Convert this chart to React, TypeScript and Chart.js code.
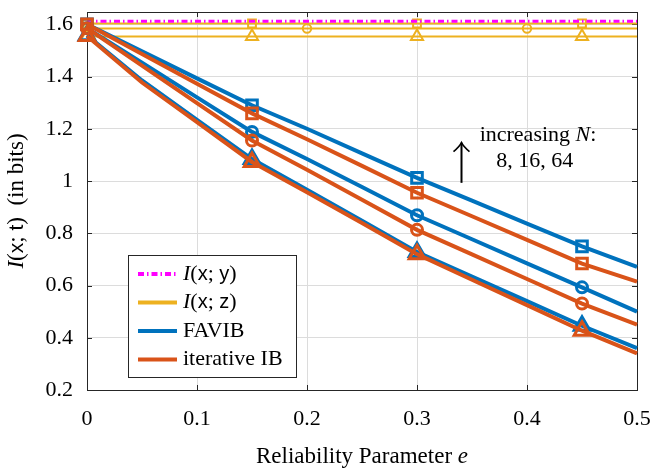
import React, { useEffect, useRef } from "react";
import { Chart, registerables } from "chart.js";

Chart.register(...registerables);

// Reliability parameter e (x axis)
const reliability = [0, 0.05, 0.1, 0.15, 0.2, 0.25, 0.3, 0.35, 0.4, 0.45, 0.5];

// I(x;t) in bits, FAVIB
const favibN64 = [1.6, 1.497, 1.393, 1.29, 1.2, 1.106, 1.012, 0.925, 0.837, 0.75, 0.671];
const favibN16 = [1.585, 1.453, 1.32, 1.188, 1.084, 0.977, 0.869, 0.777, 0.685, 0.593, 0.5];
const favibN8 = [1.558, 1.385, 1.234, 1.084, 0.967, 0.848, 0.728, 0.634, 0.54, 0.446, 0.36];

// I(x;t) in bits, iterative IB
const iterN64 = [1.6, 1.486, 1.372, 1.259, 1.16, 1.058, 0.955, 0.865, 0.775, 0.684, 0.615];
const iterN16 = [1.585, 1.442, 1.298, 1.155, 1.043, 0.928, 0.813, 0.719, 0.625, 0.531, 0.45];
const iterN8 = [1.555, 1.377, 1.225, 1.073, 0.957, 0.839, 0.72, 0.622, 0.525, 0.427, 0.34];

// Reference levels
const infoXY = 1.612;
const infoXZ_N64 = 1.603;
const infoXZ_N16 = 1.584;
const infoXZ_N8 = 1.553;

const xTickValues = [0, 0.1, 0.2, 0.3, 0.4, 0.5];
const yTickValues = [0.2, 0.4, 0.6, 0.8, 1, 1.2, 1.4, 1.6];

const BLUE = "#0072BD";
const ORANGE = "#D95319";
const YELLOW = "#EDB120";
const MAGENTA = "#FF00FF";
const AXIS = "#262626";
const GRID = "#dcdcdc";

const SERIF = '"Liberation Serif", "DejaVu Serif", serif';
const SANS = '"Liberation Sans", "DejaVu Sans", sans-serif';
const FS = 22;

type Part = { t: string; f: string };

function drawParts(
  ctx: CanvasRenderingContext2D,
  parts: Part[],
  x: number,
  y: number,
  align: "left" | "center"
) {
  let w = 0;
  for (const p of parts) {
    ctx.font = p.f;
    w += ctx.measureText(p.t).width;
  }
  let cx = align === "center" ? x - w / 2 : x;
  ctx.textAlign = "left";
  ctx.textBaseline = "middle";
  for (const p of parts) {
    ctx.font = p.f;
    ctx.fillText(p.t, cx, y);
    cx += ctx.measureText(p.t).width;
  }
}

function infoLabel(second: string, size: number): Part[] {
  const serif = `${size}px ${SERIF}`;
  const sans = `${size - 2}px ${SANS}`;
  return [
    { t: "I", f: `italic ${size}px ${SERIF}` },
    { t: "(", f: serif },
    { t: "x", f: sans },
    { t: "; ", f: serif },
    { t: second, f: sans },
    { t: ")", f: serif },
  ];
}

const toPoints = (ys: number[]) => reliability.map((x, i) => ({ x, y: ys[i] }));

function series(
  label: string,
  ys: number[],
  color: string,
  style: string,
  radius: number,
  every: number,
  order: number,
  width = 4
) {
  return {
    label,
    data: toPoints(ys),
    borderColor: color,
    borderWidth: width,
    pointStyle: style,
    pointRadius: (c: any) => (c.dataIndex % every === 0 ? radius : 0),
    pointHoverRadius: 0,
    pointBorderColor: color,
    pointBackgroundColor: "rgba(0,0,0,0)",
    pointBorderWidth: width === 4 ? 3 : 2,
    tension: 0,
    clip: false as any,
    order,
  };
}

const decorations = {
  id: "decorations",
  beforeDatasetsDraw(chart: any) {
    const { ctx, chartArea: a, scales } = chart;
    ctx.save();
    ctx.strokeStyle = AXIS;
    ctx.lineWidth = 1;
    ctx.beginPath();
    for (const v of xTickValues) {
      const px = Math.round(scales.x.getPixelForValue(v)) + 0.5;
      ctx.moveTo(px, a.bottom);
      ctx.lineTo(px, a.bottom - 5);
      ctx.moveTo(px, a.top);
      ctx.lineTo(px, a.top + 5);
    }
    for (const v of yTickValues) {
      const py = Math.round(scales.y.getPixelForValue(v)) + 0.5;
      ctx.moveTo(a.left, py);
      ctx.lineTo(a.left + 5, py);
      ctx.moveTo(a.right, py);
      ctx.lineTo(a.right - 5, py);
    }
    ctx.stroke();
    ctx.strokeRect(
      Math.round(a.left) + 0.5,
      Math.round(a.top) + 0.5,
      Math.round(a.right - a.left),
      Math.round(a.bottom - a.top)
    );
    ctx.restore();
  },
  afterDraw(chart: any) {
    const { ctx, chartArea: a, scales } = chart;
    ctx.save();
    ctx.fillStyle = "#000";

    // axis titles
    drawParts(
      ctx,
      [
        { t: "Reliability Parameter ", f: `${FS + 1}px ${SERIF}` },
        { t: "e", f: `italic ${FS + 1}px ${SERIF}` },
      ],
      (a.left + a.right) / 2,
      457,
      "center"
    );
    ctx.save();
    ctx.translate(17, (a.top + a.bottom) / 2);
    ctx.rotate(-Math.PI / 2);
    drawParts(
      ctx,
      [...infoLabel("t", FS + 1), { t: "  (in bits)", f: `${FS + 1}px ${SERIF}` }],
      0,
      0,
      "center"
    );
    ctx.restore();

    // legend
    const lx = 128.5, ly = 255.5, lw = 168, lh = 122;
    ctx.fillStyle = "#fff";
    ctx.fillRect(lx, ly, lw, lh);
    ctx.strokeStyle = AXIS;
    ctx.lineWidth = 1;
    ctx.strokeRect(lx, ly, lw, lh);
    const rows: { color: string; dash: number[]; width: number; label: Part[] }[] = [
      { color: MAGENTA, dash: [6, 3, 1.5, 3], width: 4, label: infoLabel("y", FS) },
      { color: YELLOW, dash: [], width: 4, label: infoLabel("z", FS) },
      { color: BLUE, dash: [], width: 4, label: [{ t: "FAVIB", f: `${FS}px ${SERIF}` }] },
      { color: ORANGE, dash: [], width: 4, label: [{ t: "iterative IB", f: `${FS}px ${SERIF}` }] },
    ];
    rows.forEach((r, i) => {
      const y = 274 + i * 28.5;
      ctx.strokeStyle = r.color;
      ctx.lineWidth = r.width;
      ctx.setLineDash(r.dash);
      ctx.beginPath();
      ctx.moveTo(138, y);
      ctx.lineTo(177, y);
      ctx.stroke();
      ctx.setLineDash([]);
      ctx.fillStyle = "#000";
      drawParts(ctx, r.label, 183, y, "left");
    });

    // annotation: arrow and text
    const ax = Math.round(scales.x.getPixelForValue(0.34)) + 0.5;
    const yTop = scales.y.getPixelForValue(1.147);
    const yBot = scales.y.getPixelForValue(0.993);
    ctx.strokeStyle = "#000";
    ctx.lineWidth = 2;
    ctx.beginPath();
    ctx.moveTo(ax, yBot);
    ctx.lineTo(ax, yTop);
    ctx.stroke();
    ctx.lineWidth = 1.6;
    ctx.beginPath();
    ctx.moveTo(ax - 8, yTop + 9);
    ctx.quadraticCurveTo(ax - 2, yTop + 4, ax, yTop);
    ctx.quadraticCurveTo(ax + 2, yTop + 4, ax + 8, yTop + 9);
    ctx.stroke();

    ctx.fillStyle = "#000";
    drawParts(
      ctx,
      [
        { t: "increasing ", f: `${FS}px ${SERIF}` },
        { t: "N", f: `italic ${FS}px ${SERIF}` },
        { t: ":", f: `${FS}px ${SERIF}` },
      ],
      scales.x.getPixelForValue(0.41),
      scales.y.getPixelForValue(1.175),
      "center"
    );
    drawParts(
      ctx,
      [{ t: "8, 16, 64", f: `${FS}px ${SERIF}` }],
      scales.x.getPixelForValue(0.407),
      scales.y.getPixelForValue(1.075),
      "center"
    );
    ctx.restore();
  },
};

const flat = (v: number) => reliability.map(() => v);

const noPadding = (s: any) => {
  s.paddingLeft = 0;
  s.paddingRight = 0;
  s.paddingTop = 0;
  s.paddingBottom = 0;
};

export default function App() {
  const ref = useRef<HTMLCanvasElement>(null);

  useEffect(() => {
    const canvas = ref.current;
    if (!canvas) return;

    const chart = new Chart(canvas, {
      type: "line",
      data: {
        datasets: [
          // iterative IB on top
          series("iterative IB N=64", iterN64, ORANGE, "rect", 7.5, 3, 1),
          series("iterative IB N=16", iterN16, ORANGE, "circle", 5.5, 3, 1),
          series("iterative IB N=8", iterN8, ORANGE, "triangle", 9, 3, 1),
          series("FAVIB N=64", favibN64, BLUE, "rect", 7.5, 3, 2),
          series("FAVIB N=16", favibN16, BLUE, "circle", 5.5, 3, 2),
          series("FAVIB N=8", favibN8, BLUE, "triangle", 9, 3, 2),
          {
            label: "I(x;y)",
            data: toPoints(flat(infoXY)),
            borderColor: MAGENTA,
            borderWidth: 3,
            borderDash: [6, 3, 1.5, 3],
            pointRadius: 0,
            pointHoverRadius: 0,
            tension: 0,
            order: 3,
          } as any,
          series("I(x;z) N=64", flat(infoXZ_N64), YELLOW, "rect", 5.5, 3, 4, 2),
          series("I(x;z) N=16", flat(infoXZ_N16), YELLOW, "circle", 4.2, 4, 4, 2),
          series("I(x;z) N=8", flat(infoXZ_N8), YELLOW, "triangle", 7, 3, 4, 2),
        ],
      },
      options: {
        animation: false,
        responsive: false,
        devicePixelRatio: 1,
        events: [],
        layout: { padding: { top: 5, right: 15, left: 0, bottom: 0 } },
        plugins: {
          legend: { display: false },
          tooltip: { enabled: false },
          title: { display: false },
        },
        scales: {
          x: {
            type: "linear",
            min: 0,
            max: 0.5,
            afterFit: (s: any) => {
              s.height = 82;
              noPadding(s);
            },
            afterBuildTicks: (s: any) => {
              s.ticks = xTickValues.map((v) => ({ value: v }));
            },
            ticks: {
              padding: 16,
              color: "#000",
              font: { family: SERIF, size: FS },
              maxRotation: 0,
              callback: (v: any) => String(Number(Number(v).toFixed(2))),
            },
            grid: { color: GRID, lineWidth: 1, drawTicks: false },
            border: { display: false },
          },
          y: {
            type: "linear",
            min: 0.2,
            max: 1.647,
            afterFit: (s: any) => {
              s.width = 87;
              noPadding(s);
            },
            afterBuildTicks: (s: any) => {
              s.ticks = yTickValues.map((v) => ({ value: v }));
            },
            ticks: {
              padding: 14,
              color: "#000",
              font: { family: SERIF, size: FS },
              callback: (v: any) => String(Number(Number(v).toFixed(2))),
            },
            grid: { color: GRID, lineWidth: 1, drawTicks: false },
            border: { display: false },
          },
        },
      },
      plugins: [decorations],
    });

    return () => chart.destroy();
  }, []);

  return (
    <div
      style={{
        position: "fixed",
        left: 0,
        top: 0,
        width: 652,
        height: 472,
        background: "#fff",
      }}
    >
      <canvas
        ref={ref}
        width={652}
        height={472}
        style={{ display: "block", width: 652, height: 472 }}
      />
    </div>
  );
}
